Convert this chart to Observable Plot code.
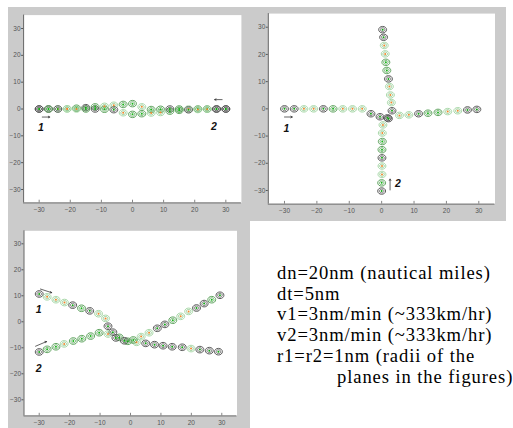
<!DOCTYPE html>
<html><head><meta charset="utf-8">
<script src="https://cdn.jsdelivr.net/npm/d3@7"></script>
<script src="https://cdn.jsdelivr.net/npm/@observablehq/plot@0.6"></script>
<style>
body{margin:0;background:#fff;}
#root{position:relative;width:513px;height:428px;overflow:hidden;background:#fff;}
.gray{position:absolute;background:#cbcbcb;}
.panel{position:absolute;}
.panel svg{overflow:visible;display:block;}
#notes{position:absolute;left:277px;top:263px;font-family:"Liberation Serif","Times New Roman",serif;font-size:18.6px;letter-spacing:0.9px;line-height:20.7px;color:#000;white-space:pre;}
</style>
</head><body>
<div id="root">
  <div class="gray" style="left:8px;top:7px;width:498px;height:214px;"></div>
  <div class="gray" style="left:8px;top:221px;width:242px;height:207px;"></div>
  <div class="panel" id="pA" style="left:8px;top:7px;"></div>
  <div class="panel" id="pB" style="left:254px;top:7px;"></div>
  <div class="panel" id="pC" style="left:8px;top:221px;"></div>
  <div id="notes"></div>
</div>
<script>
// ---------- data ----------
const ticks = [-30, -20, -10, 0, 10, 20, 30];

// Panel A: head-on encounter
const a1x = [-30,-27,-24,-21,-18,-15,-12,-9,-6,-3,0,3,6,9,12,15,18,21,24,27,30];
const a1y = [0,0,0,0.1,0.3,0.5,0.8,1.0,1.4,1.7,2.0,0.8,-0.2,-0.1,0,0,0,0,0,0,0];
const a1k = "ddllmdmllmmlmmdmlmmdd";
const a2x = [30,27,24,21,18,15,12,9,6,3,0,-3,-6,-9,-12,-15,-18,-21,-24,-27,-30];
const a2y = [0,0,-0.1,-0.2,-0.3,-0.5,-0.8,-1.3,-1.5,-1.75,-2.0,-1.4,-0.25,-0.1,0,0,0,0,0,0,0];
const a2k = "ddlldmmllmmldmdmlldmd";

// Panel B: crossing encounter
const b1x = [-30,-27,-24,-21,-18,-15,-12,-9,-6,-3.3,-0.5,2.1,5.5,8.4,11.4,14.3,17.4,20.4,23.5,26.5,29.4];
const b1y = [0,0,0,0,0,0,0,0,0,-1.8,-2.9,-3.6,-2.4,-2.2,-1.8,-1.6,-1.3,-1.0,-0.7,-0.4,-0.2];
const b1k = "ddlldmllldddlldmmllddd";
const b2x = [0,0,0.1,0.1,0.1,0.1,0.2,0.2,0.4,1.8,3.2,3.0,2.7,2.4,2.1,1.6,1.3,1.1,0.8,0.6,0.3];
const b2y = [-30.2,-27.2,-24.1,-21,-18,-15,-12,-8.9,-5.9,-3.3,-0.7,2.3,5.1,8.2,11,14.1,17.1,20.2,23.3,26.3,29.1];
const b2k = "dmlldmmllddllldmmlldd";

// Panel C: converging encounter
const c1x = [-30,-27.4,-24.5,-21.7,-19,-16.1,-13.4,-10.5,-8.2,-7.4,-5.8,-3.7,-0.9,2,5,7.9,10.7,13.7,17,19.9,22.8,25.9,28.9];
const c1y = [10.7,9.6,8.5,7.4,6.4,5.2,4.2,3.1,1.3,-1.7,-4,-6,-7.5,-7.9,-8.3,-8.8,-9.2,-9.6,-9.8,-10.3,-10.7,-11.1,-11.5];
const c1k = "dllldmdllddmmldddddlddd";
const c2x = [-30,-27.4,-24.5,-21.8,-18.8,-16,-13.1,-10.3,-7.4,-4.8,-2,0.9,3.5,6.1,8.8,11.3,13.9,16.5,19.1,21.7,24.2,26.7,29.4];
const c2y = [-11.6,-10.6,-9.6,-8.5,-7.4,-6.5,-5.5,-4.2,-4.7,-6.2,-7.3,-7,-5.7,-4.2,-2.5,-1,0.6,2.1,4,5.3,7,8.5,10.2];
const c2k = "dmmlmmmmlddmllddmllddmd";

// annotations: arrows [x1,y1,x2,y2] and labels [x,y,text]
const annA = {arrows: [[-29,-3,-26.6,-3],[28.8,3.5,26.4,3.5]], labels: [[-29.4,-7,"1"],[26.2,-6.7,"2"]]};
const annB = {arrows: [[-30,-3,-27.6,-3],[2.6,-29.8,2.6,-25.8]], labels: [[-29.4,-7.1,"1"],[5,-27.6,"2"]]};
const annC = {arrows: [[-29.6,12.6,-25.9,11.2],[-31.2,-9.4,-27.6,-7.6]], labels: [[-30.2,4.5,"1"],[-30.2,-18,"2"]]};

const notes = [
  "dn=20nm (nautical miles)",
  "dt=5nm",
  "v1=3nm/min (~333km/hr)",
  "v2=3nm/min (~333km/hr)",
  "r1=r2=1nm (radii of the",
  "planes in the figures)"
];

// ---------- drawing ----------
const ring   = {d: "#4a4a4a", m: "#4f9a4f", l: "#9fd49f"};
const inner  = {d: "#5a5a5a", m: "#5aa55a", l: "#86c486"};
const center = {d: "#12a612", m: "#18b418", l: "#f0882c"};

function ellipse(ax, ay) {
  return {draw(ctx, size) {
    const r = Math.sqrt(size / Math.PI), rx = r * ax, ry = r * ay, k = 0.5523;
    ctx.moveTo(rx, 0);
    ctx.bezierCurveTo(rx, ry * k, rx * k, ry, 0, ry);
    ctx.bezierCurveTo(-rx * k, ry, -rx, ry * k, -rx, 0);
    ctx.bezierCurveTo(-rx, -ry * k, -rx * k, -ry, 0, -ry);
    ctx.bezierCurveTo(rx * k, -ry, rx, -ry * k, rx, 0);
    ctx.closePath();
  }};
}

function toPts(xs, ys, ks) {
  return xs.map((x, i) => ({x, y: ys[i], k: ks[i]}));
}

function panel(el, {w, h, ml, mr, mt, mb, ymin, planes, ann, ax, ay}) {
  const sym = ellipse(ax, ay);
  const pts = planes.flatMap(([xs, ys, ks]) => toPts(xs, ys, ks));
  const fig = Plot.plot({
    width: w, height: h,
    marginLeft: ml, marginRight: mr, marginTop: mt, marginBottom: mb,
    x: {domain: [-35, 35]}, y: {domain: [ymin, 35]},
    color: {type: "identity"},
    style: {background: "transparent", fontFamily: "Liberation Sans, Arial, sans-serif", overflow: "visible"},
    marks: [
      Plot.frame({fill: "white", stroke: "none"}),
      Plot.axisY(ticks, {tickSize: 2, tickPadding: 1, fontSize: 6.5, color: "#555", label: null}),
      Plot.axisX(ticks, {tickSize: 0, tickPadding: 4.5, fontSize: 6.5, color: "#555", label: null}),
      Plot.ruleX(ticks, {y1: ymin, y2: ymin + 1, stroke: "#666", strokeWidth: 0.8}),
      Plot.ruleX([-35], {stroke: "#666", strokeWidth: 1}),
      Plot.ruleY([ymin], {stroke: "#666", strokeWidth: 1}),
      Plot.dot(pts, {x: "x", y: "y", r: 3.6, symbol: sym, fill: "none", stroke: d => ring[d.k], strokeWidth: 0.9}),
      Plot.dot(pts, {x: "x", y: "y", r: 2.1, symbol: sym, fill: "none", stroke: d => inner[d.k], strokeWidth: 0.8}),
      Plot.dot(pts, {x: "x", y: "y", r: 1.0, fill: d => center[d.k], stroke: "none"}),
      Plot.arrow(ann.arrows, {x1: d => d[0], y1: d => d[1], x2: d => d[2], y2: d => d[3], stroke: "#222", strokeWidth: 0.7, headLength: 3.5}),
      Plot.text(ann.labels, {x: d => d[0], y: d => d[1], text: d => d[2], fontSize: 10.5, fontWeight: "bold", fontStyle: "italic", fill: "#111"})
    ]
  });
  el.appendChild(fig);
}

panel(document.getElementById("pA"), {w: 246, h: 214, ml: 15.1, mr: 13.1, mt: 7.6, mb: 18.6, ymin: -35, ax: 1.1, ay: 0.9,
  planes: [[a1x, a1y, a1k], [a2x, a2y, a2k]], ann: annA});
panel(document.getElementById("pB"), {w: 252, h: 214, ml: 13.8, mr: 11.5, mt: 6.1, mb: 17.4, ymin: -35, ax: 1.1, ay: 0.9,
  planes: [[b1x, b1y, b1k], [b2x, b2y, b2k]], ann: annB});
panel(document.getElementById("pC"), {w: 242, h: 207, ml: 15.5, mr: 13.5, mt: 9.3, mb: 12.6, ymin: -36.2, ax: 1.1, ay: 0.92,
  planes: [[c1x, c1y, c1k], [c2x, c2y, c2k]], ann: annC});

const notesEl = document.getElementById("notes");
notes.forEach((t, i) => {
  const div = document.createElement("div");
  div.textContent = t;
  if (i === notes.length - 1) div.style.paddingLeft = "60px";
  notesEl.appendChild(div);
});
</script>
</body></html>
